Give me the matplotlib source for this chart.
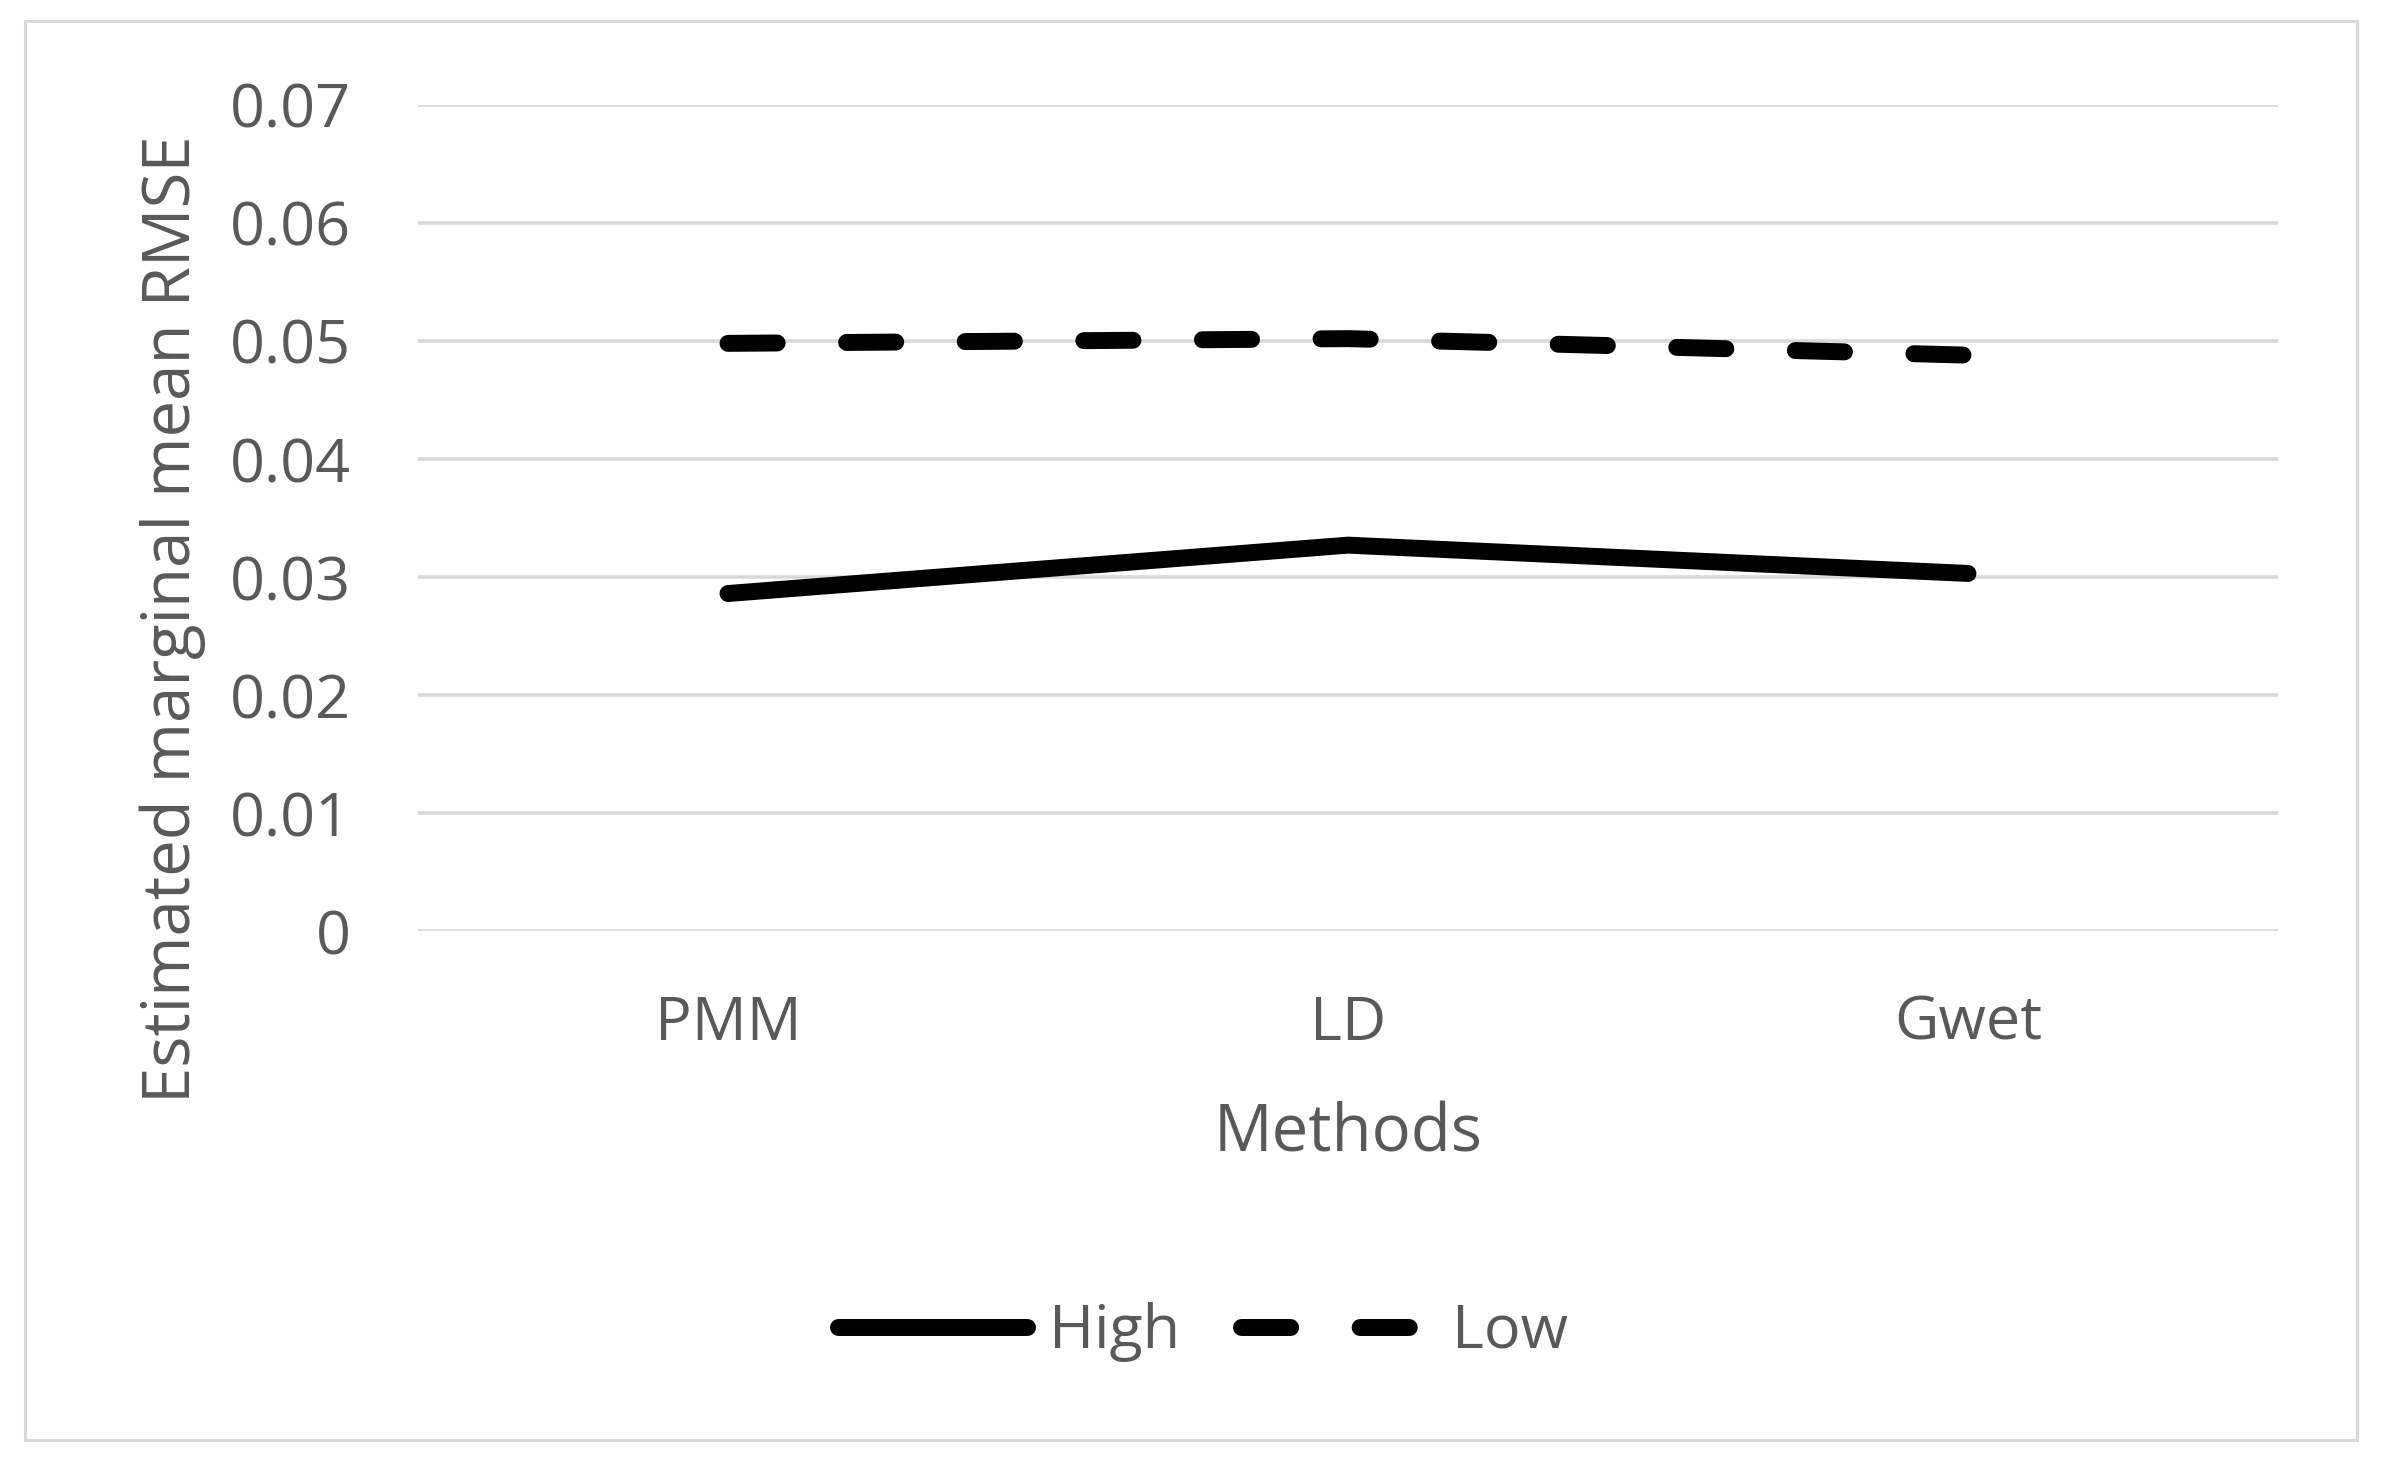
import matplotlib
matplotlib.use("Agg")
import matplotlib.pyplot as plt
from matplotlib.patches import Rectangle

methods = ["PMM", "LD", "Gwet"]
high = [0.0286, 0.0327, 0.0303]
low = [0.0498, 0.0502, 0.0488]
yticks = [0, 0.01, 0.02, 0.03, 0.04, 0.05, 0.06, 0.07]
ytick_labels = ["0", "0.01", "0.02", "0.03", "0.04", "0.05", "0.06", "0.07"]

TXT = "#595959"
GRID = "#d9d9d9"
plt.rcParams['font.family'] = ['Open Sans', 'DejaVu Sans']

W, H = 2381, 1462
fig = plt.figure(figsize=(W / 100, H / 100), dpi=100)
fig.patch.set_facecolor("white")

# outer frame
fig.patches.append(Rectangle((25 / W, 1 - 1440 / H), (2357 - 25) / W, (1440 - 21) / H,
                             transform=fig.transFigure, fill=False, edgecolor=GRID, lw=2.2))

left, right, top, bottom = 418, 2278, 105, 931
ax = fig.add_axes([left / W, 1 - bottom / H, (right - left) / W, (bottom - top) / H])

x = list(range(len(methods)))
ax.plot(x, high, color="black", lw=12.2, solid_capstyle="round", solid_joinstyle="round",
        label="High", zorder=3)
ax.plot(x, low, color="black", lw=12.2, dashes=(2.9, 4.1), dash_capstyle="round",
        label="Low", zorder=3)

ax.set_xlim(-0.5, 2.5)
ax.set_ylim(0, 0.07)
ax.set_yticks(yticks)
ax.set_yticklabels(ytick_labels)
ax.set_xticks(x)
ax.set_xticklabels(methods)
ax.grid(axis="y", color=GRID, lw=2.6, zorder=0)
ax.set_axisbelow(True)
for s in ax.spines.values():
    s.set_visible(False)
ax.tick_params(axis="both", length=0, labelsize=44, labelcolor=TXT)
ax.tick_params(axis="y", pad=48)
ax.tick_params(axis="x", pad=45)

ax.set_ylabel("Estimated marginal mean RMSE", fontsize=47, color=TXT)
ax.yaxis.set_label_coords(-0.1317, 0.378)
ax.set_xlabel("Methods", fontsize=47, color=TXT)
ax.xaxis.set_label_coords(0.5, -0.246)
ax.xaxis.label.set_va("center")
ax.yaxis.label.set_va("center")

leg = fig.legend(loc="center", bbox_to_anchor=(1203 / W, 1 - 1332 / H), ncol=2, frameon=False,
                 fontsize=44, labelcolor=TXT, handlelength=3.1, handletextpad=0.35,
                 columnspacing=1.0)

fig.savefig("out.png", dpi=100)
